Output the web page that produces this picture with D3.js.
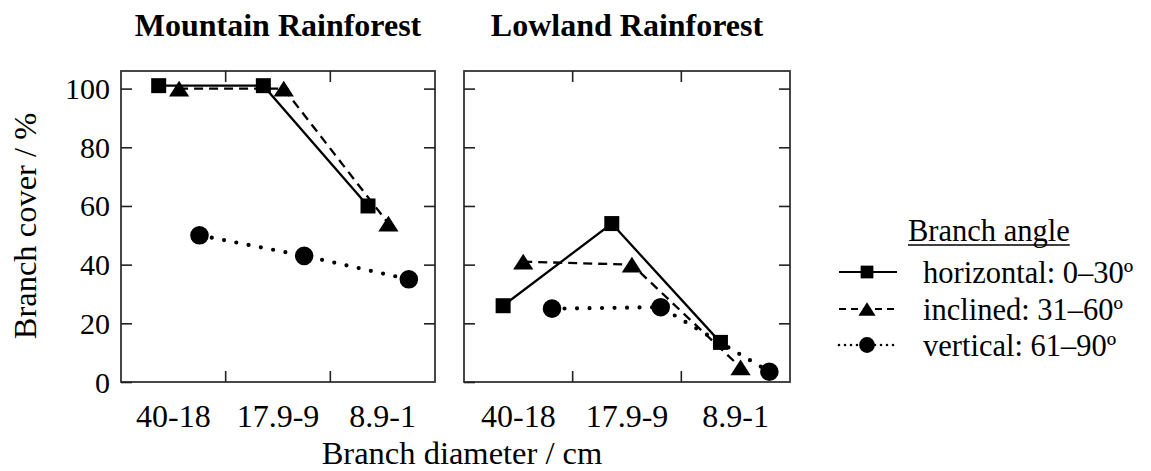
<!DOCTYPE html>
<html>
<head>
<meta charset="utf-8">
<script src="https://cdn.jsdelivr.net/npm/d3@7"></script>
<style>
  html, body { margin: 0; padding: 0; background: #fff; }
  svg { display: block; }
  text { font-family: "Liberation Serif", "Times New Roman", "DejaVu Serif", serif; fill: #000; }
</style>
</head>
<body>
<svg id="chart" width="1151" height="471"></svg>
<script>
// ---------------- data ----------------
const categories = ["40-18", "17.9-9", "8.9-1"];
const yTicks = [0, 20, 40, 60, 80, 100];
const panelTitles = ["Mountain Rainforest", "Lowland Rainforest"];
const seriesNames = ["horizontal: 0–30º", "inclined: 31–60º", "vertical: 61–90º"];
const legendTitle = "Branch angle";
const xAxisTitle = "Branch diameter / cm";
const yAxisTitle = "Branch cover / %";

const mountainHorizontal = [101, 101, 60];
const mountainInclined   = [100, 100, 54];
const mountainVertical   = [50, 43, 35];
const lowlandHorizontal  = [26, 54, 13.5];
const lowlandInclined    = [41, 40, 5];
const lowlandVertical    = [25, 25.5, 3.5];

// ---------------- layout ----------------
const svg = d3.select("#chart");
const plotTop = 71, plotBottom = 382;
const panels = [
  { x0: 121, x1: 435, title: panelTitles[0], data: [mountainHorizontal, mountainInclined, mountainVertical], dodge: [0.36, 0.555, 0.75], yLabels: true },
  { x0: 464, x1: 790, title: panelTitles[1], data: [lowlandHorizontal, lowlandInclined, lowlandVertical], dodge: [0.36, 0.545, 0.81], yLabels: false }
];
const y = d3.scaleLinear().domain([0, 106]).range([plotBottom, plotTop]);

const styles = [
  { dash: null, width: 2.3, cap: "butt", symbol: "square" },
  { dash: "9,6", width: 2.3, cap: "butt", symbol: "triangle" },
  { dash: "0,12.5", width: 4.2, cap: "round", symbol: "circle" }
];

const triType = {
  draw(ctx, size) {
    const w = Math.sqrt(size) * 1.25, h = w * 0.78;
    ctx.moveTo(0, -h / 2);
    ctx.lineTo(w / 2, h / 2);
    ctx.lineTo(-w / 2, h / 2);
    ctx.closePath();
  }
};
function symbolPath(kind, scale = 1) {
  if (kind === "square") return d3.symbol(d3.symbolSquare, 225 * scale * scale)();
  if (kind === "triangle") return d3.symbol(triType, 262 * scale * scale)();
  return d3.symbol(d3.symbolCircle, Math.PI * 9.3 * 9.3 * scale * scale)();
}

const tickFont = 30, catFont = 32, titleFont = 32.5, legendFont = 30.5, headFont = 32;

panels.forEach(p => {
  const x = d3.scaleBand().domain(categories).range([p.x0, p.x1]).padding(0);
  const bw = x.bandwidth();
  const g = svg.append("g");

  // frame
  g.append("rect").attr("x", p.x0).attr("y", plotTop).attr("width", p.x1 - p.x0).attr("height", plotBottom - plotTop)
    .attr("fill", "none").attr("stroke", "#333").attr("stroke-width", 1.8);

  // y ticks left and right (inward)
  const yl = g.append("g").attr("transform", `translate(${p.x0},0)`)
    .call(d3.axisRight(y).tickValues(yTicks).tickSize(11).tickFormat(""));
  yl.select(".domain").remove();
  const yr = g.append("g").attr("transform", `translate(${p.x1},0)`)
    .call(d3.axisLeft(y).tickValues(yTicks.filter(v => v > 0)).tickSize(11).tickFormat(""));
  yr.select(".domain").remove();
  svg.selectAll(".tick line").attr("stroke", "#222").attr("stroke-width", 1.6);

  // y labels
  if (p.yLabels) {
    g.selectAll(".ylab").data(yTicks).join("text")
      .attr("x", p.x0 - 11).attr("y", d => y(d)).attr("dy", "0.35em")
      .attr("text-anchor", "end").style("font-size", tickFont + "px").text(d => d);
  }

  // x ticks at band boundaries (top and bottom, inward)
  const bounds = categories.slice(1).map(c => x(c));
  g.selectAll(".xtb").data(bounds).join("line")
    .attr("x1", d => d).attr("x2", d => d).attr("y1", plotBottom).attr("y2", plotBottom - 11)
    .attr("stroke", "#222").attr("stroke-width", 1.6);
  g.selectAll(".xtt").data(bounds).join("line")
    .attr("x1", d => d).attr("x2", d => d).attr("y1", plotTop).attr("y2", plotTop + 11)
    .attr("stroke", "#222").attr("stroke-width", 1.6);

  // category labels
  g.selectAll(".xlab").data(categories).join("text")
    .attr("x", d => x(d) + bw / 2).attr("y", 427)
    .attr("text-anchor", "middle").style("font-size", catFont + "px").text(d => d);

  // title
  g.append("text").attr("x", (p.x0 + p.x1) / 2).attr("y", 36).attr("text-anchor", "middle")
    .style("font-size", headFont + "px").style("font-weight", "bold").text(p.title);

  // lines
  p.data.forEach((vals, si) => {
    const st = styles[si];
    const line = d3.line()
      .x((d, i) => x(categories[i]) + p.dodge[si] * bw)
      .y(d => y(d));
    g.append("path").datum(vals).attr("d", line)
      .attr("fill", "none").attr("stroke", "#000").attr("stroke-width", st.width)
      .attr("stroke-linecap", st.cap)
      .attr("stroke-dasharray", st.dash);
  });
  // markers
  p.data.forEach((vals, si) => {
    const st = styles[si];
    g.selectAll(".m" + si).data(vals).join("path")
      .attr("transform", (d, i) => `translate(${x(categories[i]) + p.dodge[si] * bw},${y(d)})`)
      .attr("d", symbolPath(st.symbol)).attr("fill", "#000");
  });
});

// axis titles
svg.append("text").attr("x", 462).attr("y", 464).attr("text-anchor", "middle")
  .style("font-size", titleFont + "px").text(xAxisTitle);
svg.append("text").attr("transform", "translate(36,226) rotate(-90)").attr("text-anchor", "middle")
  .style("font-size", titleFont + "px").text(yAxisTitle);

// legend
const lg = svg.append("g");
const lt = lg.append("text").attr("x", 908).attr("y", 241).style("font-size", legendFont + "px").text(legendTitle);
const bb = lt.node().getBBox();
lg.append("line").attr("x1", bb.x).attr("x2", bb.x + bb.width).attr("y1", 245).attr("y2", 245)
  .attr("stroke", "#000").attr("stroke-width", 1.4);
const rowY = [272, 309, 345];
seriesNames.forEach((name, i) => {
  const st = styles[i];
  lg.append("line").attr("x1", 839).attr("x2", 897).attr("y1", rowY[i]).attr("y2", rowY[i])
    .attr("stroke", "#000").attr("stroke-width", i === 2 ? 2.6 : 1.8)
    .attr("stroke-linecap", st.cap)
    .attr("stroke-dasharray", i === 0 ? null : (i === 1 ? "7,5" : "0,6"));
  lg.append("path").attr("transform", `translate(867,${rowY[i]})`).attr("d", symbolPath(st.symbol, 0.85)).attr("fill", "#000");
  lg.append("text").attr("x", 923).attr("y", rowY[i]).attr("dy", "0.35em").style("font-size", legendFont + "px").text(name);
});
</script>
</body>
</html>
